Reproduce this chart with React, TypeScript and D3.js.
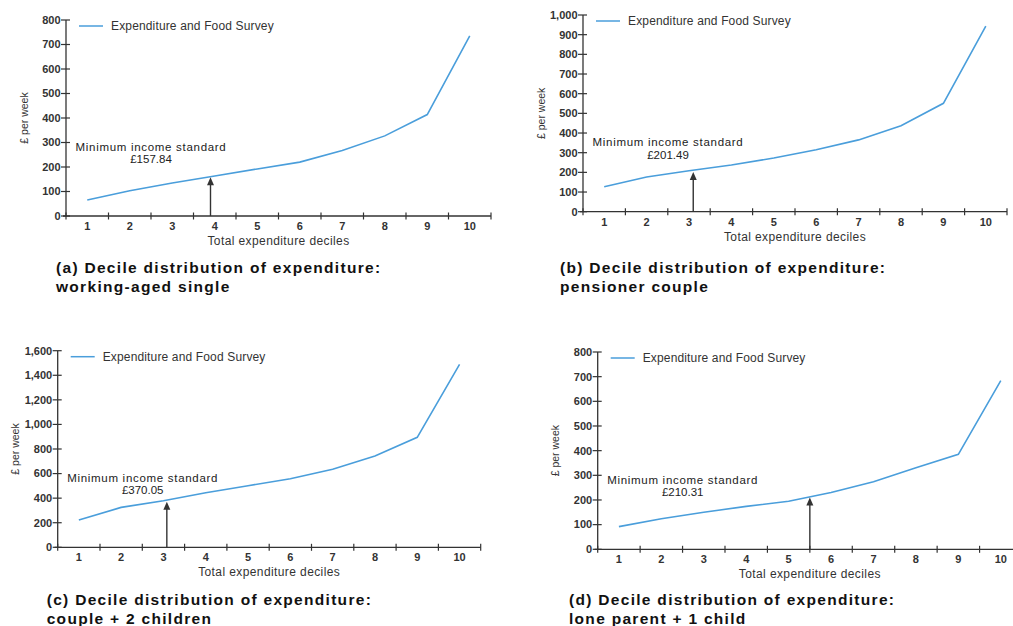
import * as d3 from "d3";

// deciles on the x axis
const deciles = [1, 2, 3, 4, 5, 6, 7, 8, 9, 10];

// £ per week
const singleSpend = [65, 103, 135, 163, 192, 220, 267, 327, 414, 735];
const pensionerSpend = [127, 176, 208, 237, 273, 315, 365, 437, 551, 944];
const coupleSpend = [222, 325, 379, 444, 501, 558, 635, 743, 895, 1489];
const loneParentSpend = [92, 124, 150, 174, 195, 230, 274, 331, 385, 684];

const misValues = [157.84, 201.49, 370.05, 210.31];
const misDeciles = [3.9, 3.1, 3.08, 5.5];
const yMaxes = [800, 1000, 1600, 800];
const ySteps = [100, 100, 200, 100];
const captions = [
  ["(a) Decile distribution of expenditure:", "working-aged single"],
  ["(b) Decile distribution of expenditure:", "pensioner couple"],
  ["(c) Decile distribution of expenditure:", "couple + 2 children"],
  ["(d) Decile distribution of expenditure:", "lone parent + 1 child"],
];
const seriesLabel = "Expenditure and Food Survey";

// plot frames (pixels)
const frames = [
  { left: 66, right: 491, top: 20, bottom: 216, capX: 56, capY: 273 },
  { left: 583, right: 1007, top: 15, bottom: 211.7, capX: 560, capY: 273 },
  { left: 57.7, right: 480.7, top: 350.7, bottom: 547.3, capX: 46.7, capY: 605 },
  { left: 597.7, right: 1022, top: 352, bottom: 549.3, capX: 569, capY: 605 },
];

const allSpend = [singleSpend, pensionerSpend, coupleSpend, loneParentSpend];

const LINE = "#4a9edb";
const INK = "#333";
const FONT = "'Liberation Sans', Arial, sans-serif";

function Panel({ idx }: { idx: number }) {
  const values = allSpend[idx];
  const f = frames[idx];
  const yMax = yMaxes[idx];
  const mis = misValues[idx];

  const x = d3.scaleLinear().domain([0.5, 10.5]).range([f.left, f.right]);
  const y = d3.scaleLinear().domain([0, yMax]).range([f.bottom, f.top]);
  const yTicks = d3.range(0, yMax + 1, ySteps[idx]);
  const xBounds = d3.range(0.5, 11, 1);
  const fmt = d3.format(",");

  const line = d3
    .line<number>()
    .x((_, i) => x(deciles[i]))
    .y((d) => y(d));

  const ax = x(misDeciles[idx]);
  const tipY = y(mis);

  return (
    <g fontFamily={FONT}>
      {/* y axis */}
      <line x1={f.left} x2={f.left} y1={f.top} y2={f.bottom} stroke={INK} strokeWidth={1.3} />
      {yTicks.map((t) => (
        <g key={t}>
          <line x1={f.left - 5} x2={f.left + 4} y1={y(t)} y2={y(t)} stroke={INK} strokeWidth={1.2} />
          <text
            x={f.left - 5.5}
            y={y(t)}
            dy="0.35em"
            textAnchor="end"
            fontSize={11}
            fontWeight="bold"
            fill={INK}
          >
            {fmt(t)}
          </text>
        </g>
      ))}
      {/* x axis */}
      <line x1={f.left - 3} x2={f.right} y1={f.bottom} y2={f.bottom} stroke={INK} strokeWidth={1.3} />
      {xBounds.map((b) => (
        <line key={b} x1={x(b)} x2={x(b)} y1={f.bottom - 3.5} y2={f.bottom + 3.5} stroke={INK} strokeWidth={1.2} />
      ))}
      {deciles.map((d) => (
        <text
          key={d}
          x={x(d)}
          y={f.bottom + 14}
          textAnchor="middle"
          fontSize={11}
          fontWeight="bold"
          fill={INK}
        >
          {d}
        </text>
      ))}
      <text
        x={(f.left + f.right) / 2}
        y={f.bottom + 29}
        textAnchor="middle"
        fontSize={12}
        letterSpacing={0.4}
        fill={INK}
      >
        Total expenditure deciles
      </text>
      <text
        transform={`translate(${f.left - 42},${(f.top + f.bottom) / 2}) rotate(-90)`}
        textAnchor="middle"
        dy="0.35em"
        fontSize={10.5}
        fill={INK}
      >
        £ per week
      </text>

      {/* legend */}
      <line x1={f.left + 13} x2={f.left + 37} y1={f.top + 6} y2={f.top + 6} stroke={LINE} strokeWidth={1.5} />
      <text x={f.left + 45} y={f.top + 6} dy="0.35em" fontSize={12} letterSpacing={0.15} fill={INK}>
        {seriesLabel}
      </text>

      {/* series */}
      <path d={line(values) ?? ""} fill="none" stroke={LINE} strokeWidth={1.6} />

      {/* minimum income standard marker */}
      <line x1={ax} x2={ax} y1={f.bottom} y2={tipY + 7} stroke={INK} strokeWidth={1.4} />
      <path d={`M${ax},${tipY} L${ax - 3.5},${tipY + 8} L${ax + 3.5},${tipY + 8} Z`} fill={INK} />
      <text x={f.left + 9.5} y={f.bottom - 65.5} fontSize={11.5} letterSpacing={0.7} fill="#222">
        Minimum income standard
      </text>
      <text x={f.left + 85} y={f.bottom - 53} textAnchor="middle" fontSize={11.5} fill="#222">
        {"£" + mis.toFixed(2)}
      </text>

      {/* caption */}
      {captions[idx].map((c, i) => (
        <text
          key={i}
          x={f.capX}
          y={f.capY + i * 19}
          fontSize={15.5}
          fontWeight="bold"
          letterSpacing={1.3}
          fill="#111"
        >
          {c}
        </text>
      ))}
    </g>
  );
}

export default function App() {
  return (
    <div style={{ position: "absolute", left: 0, top: 0 }}>
      <svg width={1013} height={626} style={{ display: "block", background: "#fff" }}>
        {[0, 1, 2, 3].map((i) => (
          <Panel key={i} idx={i} />
        ))}
      </svg>
    </div>
  );
}
